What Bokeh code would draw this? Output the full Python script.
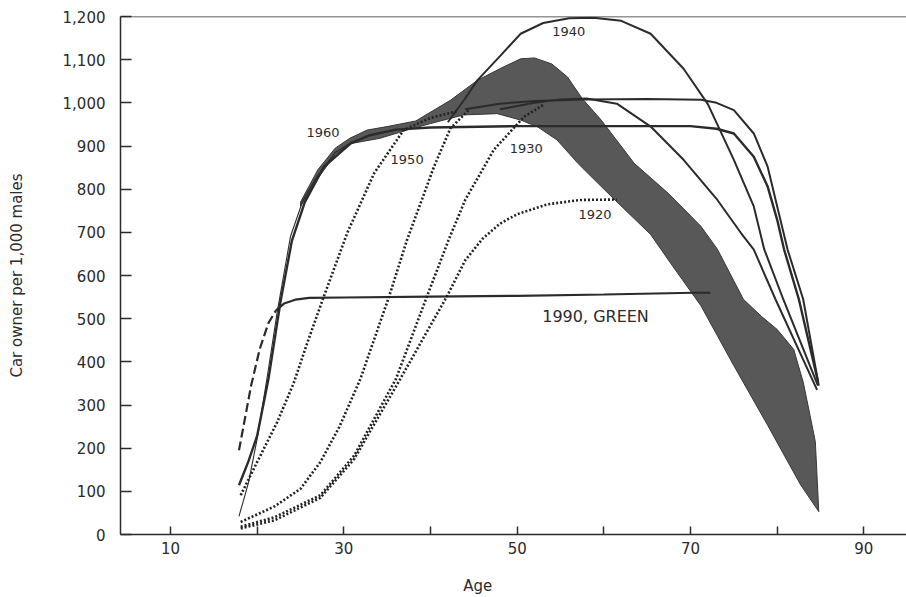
from bokeh.plotting import figure
from bokeh.models import (Range1d, FixedTicker, Span, NumeralTickFormatter, LinearAxis,
                          CustomJSTickFormatter)
from bokeh.core.properties import value
from bokeh.embed import file_html
from bokeh.resources import INLINE

FONT = "DejaVu Sans"
INK = "#2b2b2b"

# ---- data (age, cars per 1,000 males) ----
band_upper_age = [25, 27, 29, 30.7, 32.7, 35, 38.3, 42.3, 45.4, 48.1, 50.4, 52, 54, 55.8, 57.5,
                  59.7, 63.5, 67.4, 71.2, 73.1, 76.1, 78.2, 80.0, 81.9, 83.0, 83.8, 84.4, 84.8]
band_upper_val = [770, 845, 895, 918, 937, 945, 958, 1006, 1052, 1080, 1102, 1104, 1090, 1060, 1010,
                  960, 860, 791, 714, 661, 545, 505, 475, 429, 353, 275, 215, 53]
band_lower_age = [84.8, 82.7, 78.9, 75, 71.2, 68, 65.4, 62.3, 59.7, 57, 54.6, 52.3, 50.4, 47.7,
                  43.8, 40, 37.3, 34.2, 30.9, 29, 27, 25]
band_lower_val = [53, 115, 253, 391, 530, 620, 695, 755, 806, 860, 914, 945, 960, 975,
                  972, 952, 937, 918, 906, 880, 825, 760]

s1_age = [17.9, 19.0, 20.0, 21.3, 22.7, 24.0, 25.5, 27.7, 30.8, 33.0, 36.0, 40.0, 50.0, 60.0,
          70.0, 73.0, 75.0, 77.3, 78.9, 80.0, 80.8, 82.5, 84.7]
s1_val = [114, 170, 229, 360, 540, 680, 770, 852, 906, 925, 938, 943, 946, 946,
          946, 940, 929, 875, 806, 729, 660, 545, 355]

s2_age = [17.9, 19.0, 20.0, 21.2, 22.3, 23.85, 25.3, 26.9, 29.0, 31.0]
s2_val = [42, 120, 222, 370, 514, 691, 775, 829, 885, 910]

p2_age = [44, 48, 52, 57.7, 65, 71.2, 73, 75, 77.3, 78.9, 80, 81.2, 83.0, 84.8]
p2_val = [985, 998, 1004, 1008, 1009, 1007, 1000, 983, 929, 852, 760, 660, 545, 345]

p3_age = [48, 52, 55, 58, 61.5, 65.4, 69.2, 73.1, 75.8, 77.3, 79.8, 84.6]
p3_val = [985, 1000, 1008, 1010, 998, 945, 868, 775, 699, 660, 545, 335]

c1940_age = [42.0, 44.0, 45.4, 48.1, 50.4, 53.0, 56.0, 58.8, 62.0, 65.4, 69.2, 72.0, 75.0,
             77.3, 78.5, 80.7, 84.7]
c1940_val = [955, 1010, 1052, 1110, 1160, 1185, 1196, 1197, 1190, 1160, 1079, 997, 868,
             760, 661, 545, 345]

g1990_dash_age = [17.9, 18.6, 19.3, 20.3, 21.3, 22.2]
g1990_dash_val = [195, 270, 345, 430, 490, 520]
g1990_age = [22.2, 23.1, 24.4, 26.0, 30.0, 40.0, 50.0, 60.0, 70.4, 72.3]
g1990_val = [520, 535, 544, 548, 549, 551, 553, 556, 560, 560]

dot_a_age = [18.1, 20.0, 22.3, 24.2, 25.8, 27.7, 30.4, 33.5, 36.9, 40.0, 43.0]
dot_a_val = [91, 168, 260, 350, 445, 552, 699, 837, 937, 965, 980]
dot_b_age = [18.1, 22.0, 25.0, 27.3, 29.5, 31.9, 35.2, 37.3, 40.4, 42.3, 44.5]
dot_b_val = [29, 65, 106, 168, 250, 360, 550, 683, 852, 941, 985]
dot_c_age = [18.1, 22.0, 27.3, 31.2, 36.0, 39.6, 42.1, 44.0, 47.3, 50.8, 53.0]
dot_c_val = [18, 40, 91, 183, 360, 552, 683, 775, 891, 968, 995]
dot_d_age = [18.1, 22.0, 27.3, 31.2, 36.5, 41.9, 44.0, 46.0, 48.0, 50.0, 53.5, 57.3, 61.5]
dot_d_val = [14, 33, 85, 175, 360, 552, 635, 685, 720, 742, 765, 775, 776]

label_text = ["1960", "1950", "1930", "1940", "1920"]
label_age = [27.6, 37.3, 51.05, 55.96, 58.98]
label_val = [931, 868, 895, 1165, 742]

green_text = ["1990, GREEN"]
green_age = [59.04]
green_val = [504]

x_ticks = [10, 30, 50, 70, 90]
x_minor = [20, 40, 60, 80]
y_ticks = list(range(0, 1201, 100))
x_title = "Age"
x_title_pos = [45.45]

# ---- figure ----
p = figure(width=906, height=597, x_range=Range1d(4.23, 94.92), y_range=Range1d(0, 1200),
           output_backend="svg", toolbar_location=None,
           min_border_left=120, min_border_right=0, min_border_top=16, min_border_bottom=61)
p.outline_line_color = None
p.grid.grid_line_color = None

# band
p.patch(band_upper_age + band_lower_age, band_upper_val + band_lower_val,
        fill_color="#585858", line_color="#383838", line_width=1)

# solid lines
p.line(s2_age, s2_val, line_color=INK, line_width=1.1)
p.line(s1_age, s1_val, line_color=INK, line_width=2.4)
p.line(p2_age, p2_val, line_color=INK, line_width=2)
p.line(p3_age, p3_val, line_color=INK, line_width=2)
p.line(c1940_age, c1940_val, line_color=INK, line_width=2)
p.line(g1990_dash_age, g1990_dash_val, line_color=INK, line_width=2.2, line_dash="9 4")
p.line(g1990_age, g1990_val, line_color=INK, line_width=2.2)

# dotted lines
for xs, ys in [(dot_a_age, dot_a_val), (dot_b_age, dot_b_val),
               (dot_c_age, dot_c_val), (dot_d_age, dot_d_val)]:
    p.line(xs, ys, line_color="#222222", line_width=2.6, line_dash="2 2")

# labels
p.text(x=label_age, y=label_val, text=label_text, text_font=value(FONT),
       text_font_size="13px", text_color=INK, text_align="center", text_baseline="middle")
p.text(x=green_age, y=green_val, text=green_text, text_font=value(FONT),
       text_font_size="16px", text_color=INK, text_align="center", text_baseline="middle")

# top line
p.add_layout(Span(location=1200, dimension="width", line_color=INK, line_width=1.5))

# axes
p.xaxis.ticker = FixedTicker(ticks=x_ticks, minor_ticks=x_minor)
p.yaxis.ticker = FixedTicker(ticks=y_ticks, minor_ticks=[])
p.yaxis.formatter = NumeralTickFormatter(format="0,0")
for ax in (p.xaxis[0], p.yaxis[0]):
    ax.axis_line_color = INK
    ax.axis_line_width = 1.5
    ax.major_tick_line_color = INK
    ax.major_tick_line_width = 1.5
    ax.minor_tick_line_color = INK
    ax.minor_tick_line_width = 1.5
    ax.major_tick_out = 0
    ax.minor_tick_out = 0
    ax.major_label_text_font = FONT
    ax.major_label_text_font_size = "15px"
    ax.major_label_text_color = INK
    ax.axis_label_text_font = FONT
    ax.axis_label_text_font_size = "15px"
    ax.axis_label_text_font_style = "normal"
    ax.axis_label_text_color = INK
p.xaxis.major_tick_in = 8
p.xaxis.minor_tick_in = 8
p.xaxis.major_label_standoff = 7
p.yaxis.major_tick_in = 11
p.yaxis.minor_tick_in = 0
p.yaxis.major_label_standoff = 15
p.yaxis.axis_label = "Car owner per 1,000 males"
p.yaxis.axis_label_standoff = 34

# x-axis title "Age" placed as a label-only axis below the main axis
age_axis = LinearAxis(ticker=FixedTicker(ticks=x_title_pos, minor_ticks=[]),
                      formatter=CustomJSTickFormatter(code="return '%s';" % x_title),
                      axis_line_color=None, major_tick_line_color=None,
                      minor_tick_line_color=None, major_label_standoff=14,
                      major_label_text_font=FONT, major_label_text_font_size="15px",
                      major_label_text_color=INK)
p.add_layout(age_axis, "below")

open("out.html", "w").write(file_html(p, INLINE))
